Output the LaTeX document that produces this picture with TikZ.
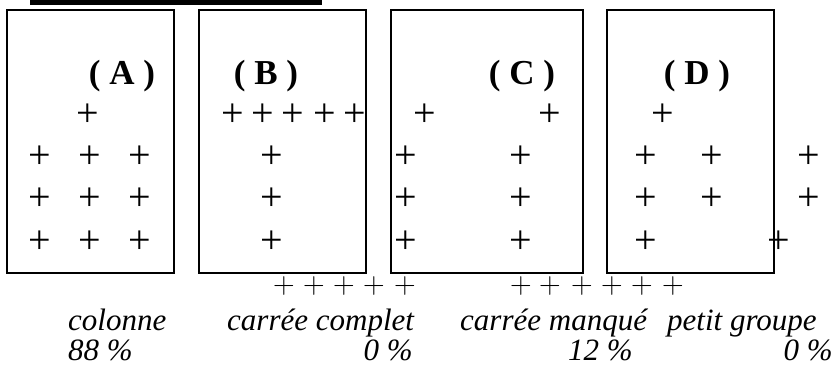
\documentclass[tikz,border=0pt]{standalone}
\usepackage{fontspec}
\setmainfont{Liberation Serif}
\newfontfamily\lmfont{Latin Modern Roman}
\tikzset{
  panel/.style={draw,line width=1.6pt},
  lab/.style={inner sep=0pt,font=\fontsize{35}{40}\selectfont\bfseries},
  pt/.style={inner sep=0pt,font=\fontsize{40}{44}\selectfont},
  ptb/.style={inner sep=0pt,font=\lmfont\fontsize{30}{34}\selectfont},
  captxt/.style={inner sep=0pt,anchor=base west,font=\fontsize{31}{36}\selectfont\itshape}
}

\begin{document}
\begin{tikzpicture}[x=1pt,y=-1pt]
\useasboundingbox (0,0) rectangle (834,365);
\fill (30,0) rectangle (322,4.5);
% the four panels
\draw[panel] (7,10) rectangle (174,273);
\draw[panel] (199,10) rectangle (366,273);
\draw[panel] (391,10) rectangle (583,273);
\draw[panel] (607,10) rectangle (774,273);
\node[lab] (labA) at (122,76) {( A )};
\node[lab] (labB) at (266,76) {( B )};
\node[lab] (labC) at (522,76) {( C )};
\node[lab] (labD) at (697,76) {( D )};
% (A) colonne
\node[pt] (a0) at (88,115) {+};
\foreach \x [count=\i] in {40,90,140}
  \foreach \y [count=\j] in {157,199,242}
    \node[pt] (a\i\j) at (\x,\y) {+};
% (B) carree complet
\foreach \x [count=\i] in {233,263,293,325,355}
  \node[pt] (bt\i) at (\x,115) {+};
\foreach \y [count=\i] in {157,199,242}
  \node[pt] (bc\i) at (272,\y) {+};
\foreach \x [count=\i] in {284,314,344,374,405}
  \node[ptb] (bb\i) at (\x,286) {+};
% (C) carree manque
\node[pt] (ct1) at (425,115) {+};
\node[pt] (ct2) at (550,115) {+};
\foreach \y [count=\i] in {157,199,242}{
  \node[pt] (cl\i) at (406,\y) {+};
  \node[pt] (cr\i) at (521,\y) {+};
}
\foreach \x [count=\i] in {521,550,582,612,642,673}
  \node[ptb] (cb\i) at (\x,286) {+};
% (D) petit groupe
\node[pt] (d0) at (663,115) {+};
\foreach \y [count=\i] in {157,199}
  \foreach \x [count=\j] in {646,712,809}
    \node[pt] (d\i\j) at (\x,\y) {+};
\node[pt] (d31) at (646,242) {+};
\node[pt] (d32) at (779,242) {+};
% captions
\node[captxt] (capA) at (68,330) {colonne};
\node[captxt] (pcA) at (68,360) {88 \%};
\node[captxt] (capB) at (227,330) {carrée complet};
\node[captxt,anchor=base east] (pcB) at (413,360) {0 \%};
\node[captxt] (capC) at (460,330) {carrée manqué};
\node[captxt] (pcC) at (568,360) {12 \%};
\node[captxt] (capD) at (667,330) {petit groupe};
\node[captxt,anchor=base east] (pcD) at (833,360) {0 \%};
\end{tikzpicture}
\end{document}
